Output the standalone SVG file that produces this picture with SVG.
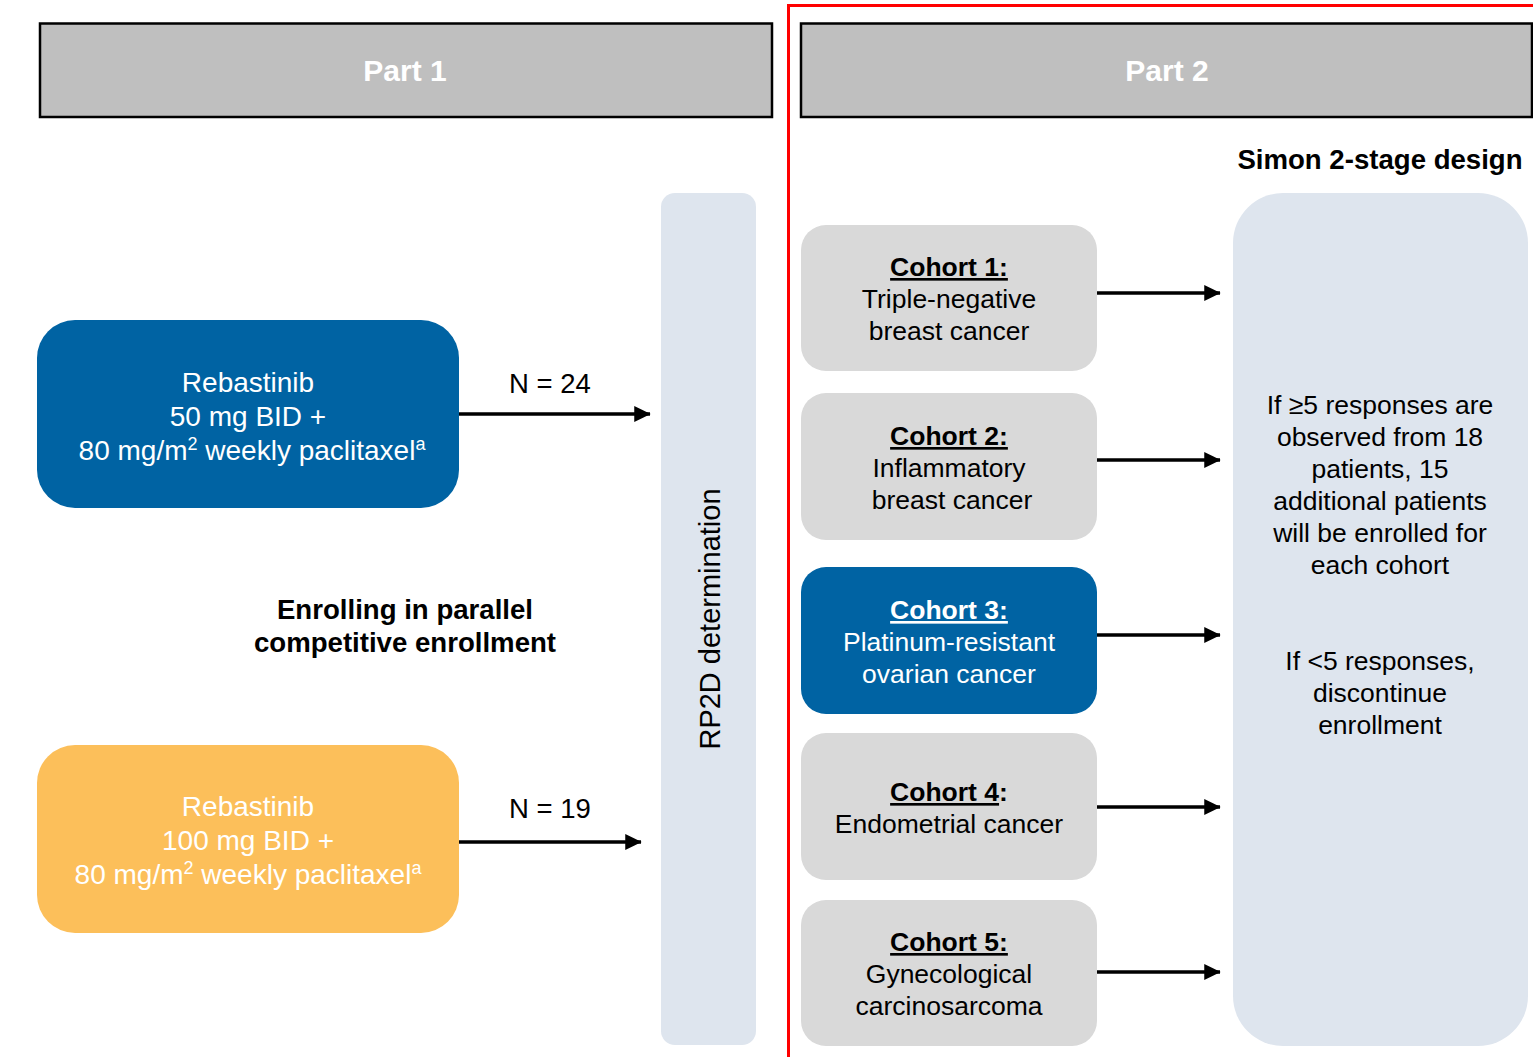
<svg xmlns="http://www.w3.org/2000/svg" width="1533" height="1057" viewBox="0 0 1533 1057">
<defs>
<marker id="ah" markerWidth="5" markerHeight="5" refX="4.5" refY="2.5" orient="auto" markerUnits="strokeWidth">
<path d="M0,0.2 L4.7,2.5 L0,4.8 Z" fill="#000"/>
</marker>
<style>
text{font-family:"Liberation Sans",Arial,sans-serif;text-anchor:middle}
.hdr{fill:#bfbfbf;stroke:#000;stroke-width:2.5}
.hdrt{fill:#fff;font-size:30px;font-weight:bold}
.panel{fill:#dee5ee}
.gray{fill:#d9d9d9}
.blue{fill:#0063a3}
.orange{fill:#fcbf5a}
.lt{fill:#fff;font-size:28px}
.ct{fill:#000;font-size:26.5px}
.cw{fill:#fff;font-size:26.5px}
.b{font-weight:bold}
.u{text-decoration:underline}
.lbl{fill:#000;font-size:27.5px}
.bold{fill:#000;font-size:27.6px;font-weight:bold}
.sup{font-size:18px}
.conn{stroke:#000;stroke-width:3.5;fill:none;marker-end:url(#ah)}
</style>
</defs>
<rect width="1533" height="1057" fill="#fff"/>
<path d="M788.5,1057 V5.5 H1533" fill="none" stroke="#ff0000" stroke-width="3"/>
<g id="part1">
<rect class="hdr" x="40" y="23.5" width="732" height="93.5"/>
<text class="hdrt" x="405" y="81">Part 1</text>
</g>
<g id="part2">
<rect class="hdr" x="801" y="23.5" width="731" height="93.5"/>
<text class="hdrt" x="1167" y="81">Part 2</text>
</g>
<g id="simon-title">
<text class="bold" x="1380" y="169">Simon 2-stage design</text>
</g>
<g id="arm50">
<rect class="blue" x="37" y="320" width="422" height="188" rx="38"/>
<text class="lt" x="248" y="392">Rebastinib</text>
<text class="lt" x="248" y="426">50 mg BID +</text>
<text class="lt" x="252" y="460">80 mg/m<tspan class="sup" dy="-10">2</tspan><tspan dy="10"> weekly paclitaxel</tspan><tspan class="sup" dy="-10">a</tspan></text>
</g>
<g id="arm100">
<rect class="orange" x="37" y="745" width="422" height="188" rx="38"/>
<text class="lt" x="248" y="816">Rebastinib</text>
<text class="lt" x="248" y="850">100 mg BID +</text>
<text class="lt" x="248" y="884">80 mg/m<tspan class="sup" dy="-10">2</tspan><tspan dy="10"> weekly paclitaxel</tspan><tspan class="sup" dy="-10">a</tspan></text>
</g>
<g id="enrolling">
<text class="bold" x="405" y="619">Enrolling in parallel</text>
<text class="bold" x="405" y="652">competitive enrollment</text>
</g>
<g id="rp2d">
<rect class="panel" x="661" y="193" width="95" height="852" rx="14"/>
<text class="lbl" transform="translate(720,619) rotate(-90)" x="0" y="0" style="font-size:29px">RP2D determination</text>
</g>
<g id="cohort1">
<rect class="gray" x="801" y="225" width="296" height="146" rx="25"/>
<text class="ct" x="949" y="276"><tspan class="b u">Cohort 1:</tspan></text>
<text class="ct" x="949" y="308">Triple-negative</text>
<text class="ct" x="949" y="340">breast cancer</text>
</g>
<g id="cohort2">
<rect class="gray" x="801" y="393" width="296" height="147" rx="25"/>
<text class="ct" x="949" y="445"><tspan class="b u">Cohort 2:</tspan></text>
<text class="ct" x="949" y="477">Inflammatory</text>
<text class="ct" x="952" y="509">breast cancer</text>
</g>
<g id="cohort3">
<rect class="blue" x="801" y="567" width="296" height="147" rx="25"/>
<text class="cw" x="949" y="619"><tspan class="b u">Cohort 3:</tspan></text>
<text class="cw" x="949" y="651">Platinum-resistant</text>
<text class="cw" x="949" y="683">ovarian cancer</text>
</g>
<g id="cohort4">
<rect class="gray" x="801" y="733" width="296" height="147" rx="25"/>
<text class="ct" x="949" y="801"><tspan class="b u">Cohort 4</tspan><tspan class="b">:</tspan></text>
<text class="ct" x="949" y="833">Endometrial cancer</text>
</g>
<g id="cohort5">
<rect class="gray" x="801" y="900" width="296" height="146" rx="25"/>
<text class="ct" x="949" y="951"><tspan class="b u">Cohort 5:</tspan></text>
<text class="ct" x="949" y="983">Gynecological</text>
<text class="ct" x="949" y="1015">carcinosarcoma</text>
</g>
<g id="simon-panel">
<rect class="panel" x="1233" y="193" width="295" height="853" rx="50"/>
<text class="ct" x="1380" y="414">If ≥5 responses are</text>
<text class="ct" x="1380" y="446">observed from 18</text>
<text class="ct" x="1380" y="478">patients, 15</text>
<text class="ct" x="1380" y="510">additional patients</text>
<text class="ct" x="1380" y="542">will be enrolled for</text>
<text class="ct" x="1380" y="574">each cohort</text>
<text class="ct" x="1380" y="670">If &lt;5 responses,</text>
<text class="ct" x="1380" y="702">discontinue</text>
<text class="ct" x="1380" y="734">enrollment</text>
</g>
<g id="connectors">
<line class="conn" x1="459" y1="414" x2="650" y2="414"/>
<text class="lbl" x="550" y="393">N = 24</text>
<line class="conn" x1="459" y1="842" x2="641" y2="842"/>
<text class="lbl" x="550" y="818">N = 19</text>
<line class="conn" x1="1097" y1="293" x2="1220" y2="293"/>
<line class="conn" x1="1097" y1="460" x2="1220" y2="460"/>
<line class="conn" x1="1097" y1="635" x2="1220" y2="635"/>
<line class="conn" x1="1097" y1="807" x2="1220" y2="807"/>
<line class="conn" x1="1097" y1="972" x2="1220" y2="972"/>
</g>
</svg>
